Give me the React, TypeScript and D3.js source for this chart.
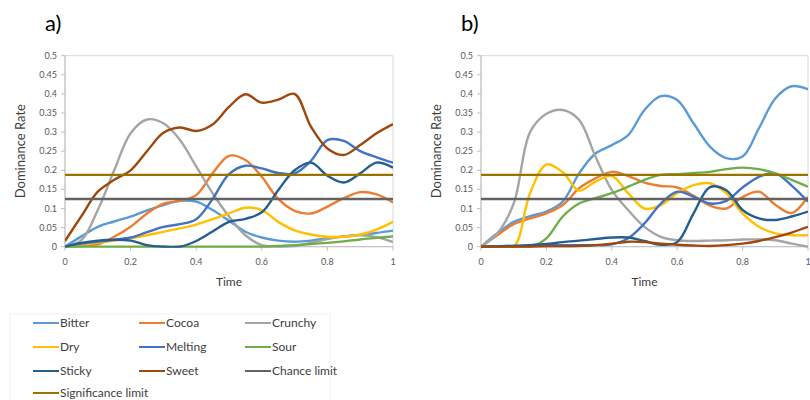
import React from "react";
import * as d3 from "d3";

const TIME = [0, 0.05, 0.1, 0.15, 0.2, 0.25, 0.3, 0.35, 0.4, 0.45, 0.5, 0.55, 0.6, 0.65, 0.7, 0.75, 0.8, 0.85, 0.9, 0.95, 1];
const SERIES = ["Bitter", "Cocoa", "Crunchy", "Dry", "Melting", "Sour", "Sticky", "Sweet"];
const COLORS = ["#5B9BD5", "#ED7D31", "#A5A5A5", "#FFC000", "#4472C4", "#70AD47", "#255E91", "#9E480E"];
const CHANCE_LIMIT = 0.125;
const SIGNIFICANCE_LIMIT = 0.188;
const LIMIT_COLORS = ["#636363", "#997300"];
const Y_TICKS = [0, 0.05, 0.1, 0.15, 0.2, 0.25, 0.3, 0.35, 0.4, 0.45, 0.5];
const X_TICKS = [0, 0.2, 0.4, 0.6, 0.8, 1];

// Panel a)
const A_BITTER = [0, 0.027, 0.052, 0.066, 0.079, 0.095, 0.109, 0.12, 0.118, 0.096, 0.068, 0.039, 0.024, 0.016, 0.013, 0.016, 0.022, 0.027, 0.031, 0.036, 0.042];
const A_COCOA = [0, 0.002, 0.006, 0.026, 0.052, 0.087, 0.113, 0.12, 0.135, 0.192, 0.238, 0.227, 0.183, 0.125, 0.094, 0.087, 0.105, 0.127, 0.143, 0.137, 0.116];
const A_CRUNCHY = [0, 0.017, 0.096, 0.2, 0.297, 0.333, 0.323, 0.28, 0.21, 0.14, 0.079, 0.03, 0.004, 0, 0.002, 0.01, 0.02, 0.027, 0.03, 0.025, 0.012];
const A_DRY = [0, 0.005, 0.01, 0.016, 0.022, 0.03, 0.039, 0.048, 0.058, 0.072, 0.087, 0.102, 0.096, 0.065, 0.043, 0.032, 0.026, 0.026, 0.032, 0.045, 0.065];
const A_MELTING = [0, 0.008, 0.013, 0.018, 0.024, 0.038, 0.052, 0.059, 0.072, 0.125, 0.19, 0.212, 0.205, 0.193, 0.192, 0.225, 0.279, 0.277, 0.25, 0.234, 0.22];
const A_SOUR = [0, 0, 0, 0, 0, 0, 0, 0, 0, 0, 0, 0, 0, 0.002, 0.004, 0.007, 0.01, 0.014, 0.019, 0.023, 0.027];
const A_STICKY = [0, 0.01, 0.016, 0.018, 0.016, 0.004, 0, 0, 0.015, 0.04, 0.065, 0.073, 0.09, 0.148, 0.2, 0.22, 0.186, 0.168, 0.192, 0.22, 0.207];
const A_SWEET = [0.015, 0.08, 0.144, 0.175, 0.2, 0.25, 0.298, 0.312, 0.303, 0.32, 0.366, 0.399, 0.377, 0.385, 0.4, 0.314, 0.257, 0.24, 0.266, 0.297, 0.321];

// Panel b)
const B_BITTER = [0, 0.035, 0.065, 0.08, 0.092, 0.118, 0.192, 0.244, 0.266, 0.292, 0.358, 0.394, 0.384, 0.323, 0.262, 0.232, 0.236, 0.31, 0.388, 0.42, 0.412];
const B_COCOA = [0, 0.03, 0.059, 0.074, 0.087, 0.109, 0.153, 0.179, 0.196, 0.185, 0.168, 0.159, 0.155, 0.133, 0.108, 0.1, 0.13, 0.144, 0.11, 0.088, 0.131];
const B_CRUNCHY = [0, 0.035, 0.113, 0.3, 0.348, 0.358, 0.332, 0.236, 0.148, 0.096, 0.052, 0.026, 0.017, 0.015, 0.016, 0.017, 0.019, 0.019, 0.017, 0.008, 0];
const B_DRY = [0, 0, 0, 0.14, 0.215, 0.195, 0.147, 0.17, 0.185, 0.14, 0.1, 0.109, 0.14, 0.161, 0.166, 0.14, 0.087, 0.052, 0.035, 0.03, 0.03];
const B_MELTING = [0, 0.001, 0.002, 0.003, 0.004, 0.004, 0.004, 0.004, 0.006, 0.022, 0.061, 0.113, 0.144, 0.131, 0.113, 0.12, 0.155, 0.183, 0.192, 0.16, 0.118];
const B_SOUR = [0, 0, 0, 0, 0.022, 0.079, 0.113, 0.127, 0.14, 0.157, 0.175, 0.188, 0.19, 0.193, 0.196, 0.203, 0.207, 0.203, 0.192, 0.175, 0.157];
const B_STICKY = [0, 0.001, 0.002, 0.004, 0.007, 0.012, 0.016, 0.02, 0.024, 0.024, 0.015, 0.005, 0.012, 0.087, 0.156, 0.148, 0.096, 0.074, 0.07, 0.079, 0.092];
const B_SWEET = [0, 0, 0, 0, 0.001, 0.001, 0.002, 0.004, 0.008, 0.013, 0.012, 0.008, 0.005, 0.003, 0.002, 0.004, 0.008, 0.015, 0.025, 0.037, 0.052];

const PANEL_A = [A_BITTER, A_COCOA, A_CRUNCHY, A_DRY, A_MELTING, A_SOUR, A_STICKY, A_SWEET];
const PANEL_B = [B_BITTER, B_COCOA, B_CRUNCHY, B_DRY, B_MELTING, B_SOUR, B_STICKY, B_SWEET];

const LEGEND_LABELS = ["Bitter", "Cocoa", "Crunchy", "Dry", "Melting", "Sour", "Sticky", "Sweet", "Chance limit", "Significance limit"];

const FONT = "Lato, 'Open Sans', sans-serif";

function Panel({ label, data, x0, x1 }: { label: string; data: number[][]; x0: number; x1: number }) {
  const top = 55.7;
  const bottom = 246.7;
  const x = d3.scaleLinear().domain([0, 1]).range([x0, x1]);
  const y = d3.scaleLinear().domain([0, 0.5]).range([bottom, top]);
  const line = d3
    .line<number>()
    .x((_, i) => x(TIME[i]))
    .y((d) => y(d))
    .curve(d3.curveCatmullRom.alpha(0.5));
  const clipId = "clip-" + label.replace(/\W/g, "");
  const cx = (x0 + x1) / 2;
  return (
    <g>
      <defs>
        <clipPath id={clipId}>
          <rect x={x0} y={top - 2} width={x1 - x0} height={bottom - top + 3} />
        </clipPath>
      </defs>
      <text x={x0 - 20} y={31} fontSize={22} fontFamily={FONT} fill="#000">
        {label}
      </text>
      <rect x={x0} y={top} width={x1 - x0} height={bottom - top} fill="#fff" stroke="#d9d9d9" strokeWidth={1} />
      <line x1={x0} x2={x0} y1={top} y2={bottom} stroke="#bfbfbf" />
      <line x1={x0} x2={x1} y1={bottom} y2={bottom} stroke="#bfbfbf" />
      {Y_TICKS.map((t) => (
        <g key={"y" + t}>
          <line x1={x0 - 4} x2={x0} y1={y(t)} y2={y(t)} stroke="#bfbfbf" />
          <text x={x0 - 8} y={y(t) + 3} fontSize={9} textAnchor="end" fill="#595959" fontFamily={FONT}>
            {t}
          </text>
        </g>
      ))}
      {X_TICKS.map((t) => (
        <g key={"x" + t}>
          <line x1={x(t)} x2={x(t)} y1={bottom} y2={bottom + 4} stroke="#bfbfbf" />
          <text x={x(t)} y={bottom + 18} fontSize={9} textAnchor="middle" fill="#595959" fontFamily={FONT}>
            {t}
          </text>
        </g>
      ))}
      <text x={cx} y={286} fontSize={12} textAnchor="middle" fill="#404040" fontFamily={FONT}>
        Time
      </text>
      <text
        transform={`translate(${x0 - 40},${(top + bottom) / 2}) rotate(-90)`}
        fontSize={13}
        textAnchor="middle"
        fill="#404040"
        fontFamily={FONT}
      >
        Dominance Rate
      </text>
      <g clipPath={`url(#${clipId})`}>
        {data.map((vals, i) => (
          <path key={SERIES[i]} d={line(vals) || ""} fill="none" stroke={COLORS[i]} strokeWidth={2.4} />
        ))}
        <line x1={x0} x2={x1} y1={y(CHANCE_LIMIT)} y2={y(CHANCE_LIMIT)} stroke={LIMIT_COLORS[0]} strokeWidth={2.4} />
        <line x1={x0} x2={x1} y1={y(SIGNIFICANCE_LIMIT)} y2={y(SIGNIFICANCE_LIMIT)} stroke={LIMIT_COLORS[1]} strokeWidth={2.4} />
      </g>
    </g>
  );
}

function Legend() {
  const colors = [...COLORS, ...LIMIT_COLORS];
  const colX = [33, 139, 245];
  const rowY = [323, 347, 371, 393];
  return (
    <g>
      <rect x={10} y={314} width={320} height={90} fill="none" stroke="#f2f2f2" />
      {LEGEND_LABELS.map((name, i) => {
        const cx = colX[i % 3];
        const cy = rowY[Math.floor(i / 3)];
        return (
          <g key={name}>
            <line x1={cx} x2={cx + 26} y1={cy} y2={cy} stroke={colors[i]} strokeWidth={2} />
            <text x={cx + 27} y={cy + 4} fontSize={12} fill="#404040" fontFamily={FONT}>
              {name}
            </text>
          </g>
        );
      })}
    </g>
  );
}

export default function App() {
  return (
    <svg width={810} height={400} style={{ position: "absolute", left: 0, top: 0, background: "#fff" }}>
      <rect width={810} height={400} fill="#fff" />
      <Panel label="a)" data={PANEL_A} x0={65} x1={393} />
      <Panel label="b)" data={PANEL_B} x0={481} x1={808} />
      <Legend />
    </svg>
  );
}
